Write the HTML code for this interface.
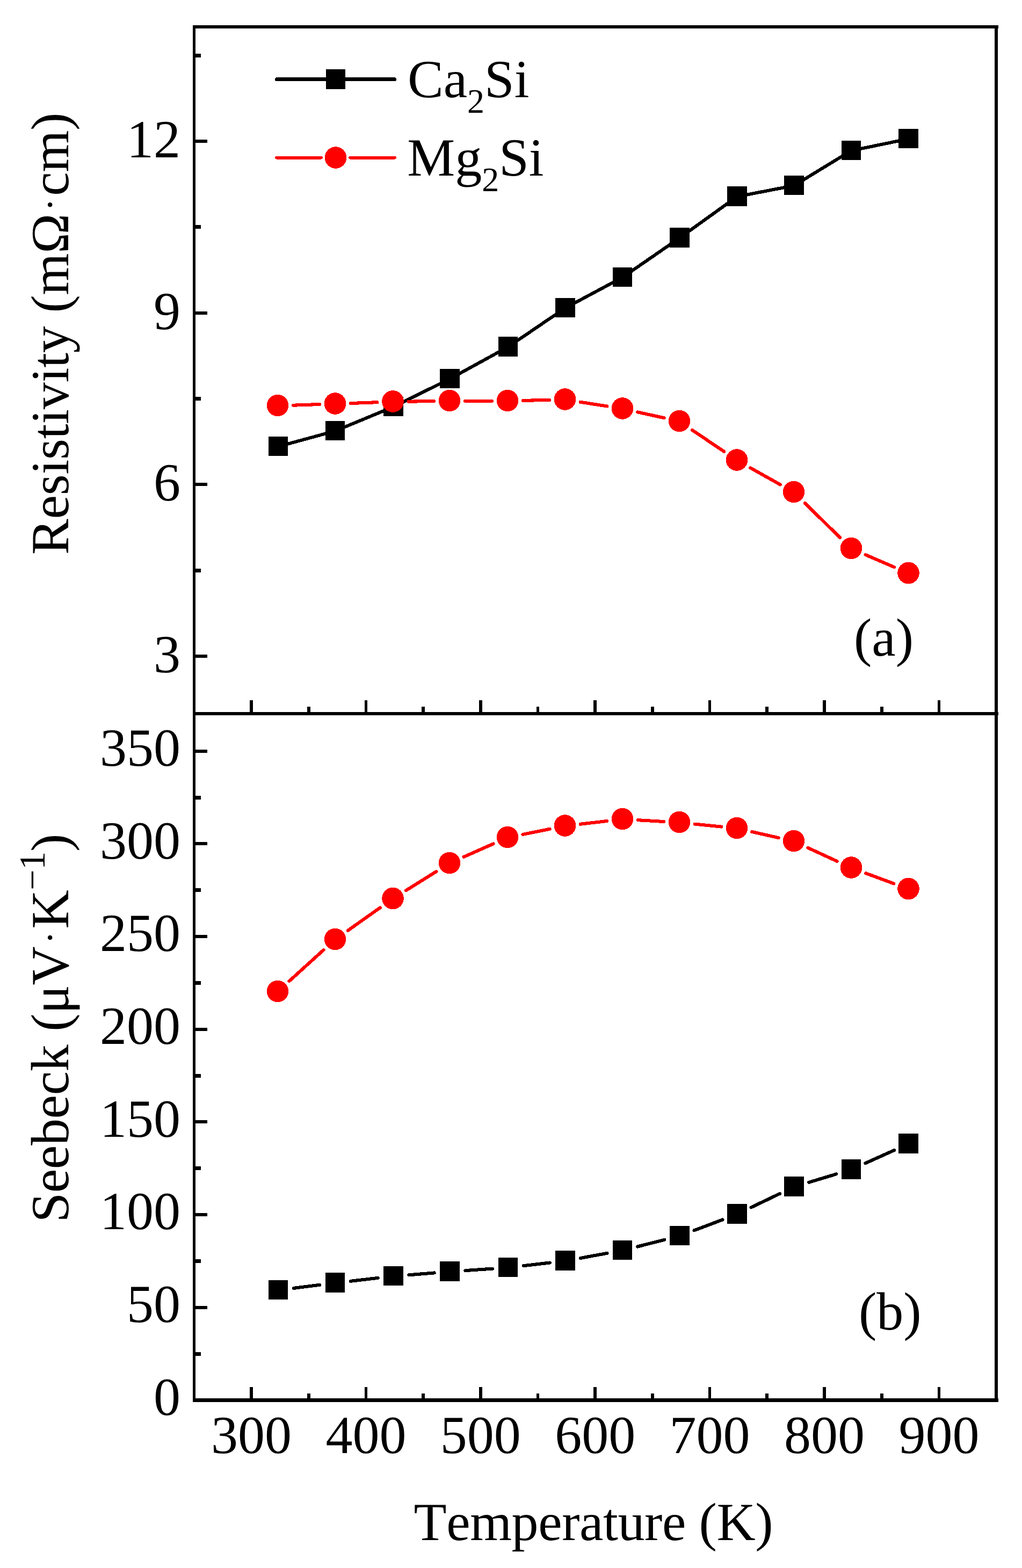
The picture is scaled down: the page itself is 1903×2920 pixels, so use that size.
<!DOCTYPE html>
<html lang="en">
<head>
<meta charset="utf-8">
<title>Resistivity and Seebeck coefficient of Ca2Si and Mg2Si versus temperature</title>
<style>
  html, body { margin: 0; padding: 0; background: #ffffff; }
  figure { margin: 0; padding: 0; width: 1903px; height: 2920px; }
  svg { display: block; width: 1903px; height: 2920px; background: #ffffff; }
  #labels text { font-family: "Liberation Serif", serif; font-size: 100px; fill: #000000;
                  text-rendering: geometricPrecision; font-kerning: none; }
  .ln { fill: none; stroke-width: 6.1; stroke-linecap: round; stroke-linejoin: round; }
</style>
</head>
<body>
<figure aria-label="Temperature dependence of (a) resistivity and (b) Seebeck coefficient for Ca2Si and Mg2Si">
<svg width="1903" height="2920" viewBox="0 0 1903 2920" role="img">
<g id="plot" shape-rendering="crispEdges">
<!-- axes frame -->
<g id="frame" fill="#000">
<rect x="359" y="47" width="5" height="2564"/>
<rect x="1852" y="47" width="6" height="2564"/>
<rect x="359" y="47" width="1500" height="6"/>
<rect x="359" y="1326" width="1500" height="6"/>
<rect x="359" y="2604" width="1500" height="7"/>
</g>
<!-- tick marks -->
<g id="ticks" fill="#000">
<rect x="364" y="260" width="22" height="6"/>
<rect x="364" y="580" width="22" height="6"/>
<rect x="364" y="899" width="22" height="6"/>
<rect x="364" y="1219" width="22" height="6"/>
<rect x="364" y="100" width="10" height="7"/>
<rect x="364" y="419" width="10" height="7"/>
<rect x="364" y="739" width="10" height="7"/>
<rect x="364" y="1059" width="10" height="7"/>
<rect x="364" y="2432" width="22" height="6"/>
<rect x="364" y="2259" width="22" height="6"/>
<rect x="364" y="2086" width="22" height="6"/>
<rect x="364" y="1914" width="22" height="6"/>
<rect x="364" y="1741" width="22" height="6"/>
<rect x="364" y="1568" width="22" height="6"/>
<rect x="364" y="1396" width="22" height="6"/>
<rect x="364" y="2518" width="10" height="7"/>
<rect x="364" y="2345" width="10" height="7"/>
<rect x="364" y="2172" width="10" height="7"/>
<rect x="364" y="2000" width="10" height="7"/>
<rect x="364" y="1827" width="10" height="7"/>
<rect x="364" y="1654" width="10" height="7"/>
<rect x="364" y="1482" width="10" height="7"/>
<rect x="465" y="2583" width="6" height="21"/>
<rect x="465" y="1304" width="6" height="22"/>
<rect x="679" y="2583" width="5" height="21"/>
<rect x="679" y="1304" width="5" height="22"/>
<rect x="892" y="2583" width="6" height="21"/>
<rect x="892" y="1304" width="6" height="22"/>
<rect x="1105" y="2583" width="6" height="21"/>
<rect x="1105" y="1304" width="6" height="22"/>
<rect x="1319" y="2583" width="5" height="21"/>
<rect x="1319" y="1304" width="5" height="22"/>
<rect x="1532" y="2583" width="6" height="21"/>
<rect x="1532" y="1304" width="6" height="22"/>
<rect x="1746" y="2583" width="5" height="21"/>
<rect x="1746" y="1304" width="5" height="22"/>
<rect x="572" y="2595" width="6" height="9"/>
<rect x="572" y="1316" width="6" height="10"/>
<rect x="785" y="2595" width="6" height="9"/>
<rect x="785" y="1316" width="6" height="10"/>
<rect x="999" y="2595" width="5" height="9"/>
<rect x="999" y="1316" width="5" height="10"/>
<rect x="1212" y="2595" width="6" height="9"/>
<rect x="1212" y="1316" width="6" height="10"/>
<rect x="1425" y="2595" width="6" height="9"/>
<rect x="1425" y="1316" width="6" height="10"/>
<rect x="1639" y="2595" width="6" height="9"/>
<rect x="1639" y="1316" width="6" height="10"/>
</g>
<!-- panel (a): resistivity -->
<g id="a-ca2si">
<g class="ln" stroke="#000">
<polyline points="518,831.6 624,802.6 732.5,757.6 837.5,705.6 946,646.1 1052.5,573.6 1159,516.6 1265.5,443.1 1372.5,366.1 1478.5,345.6 1585,280.6 1691.5,258.6"/>
</g>
<g class="mk" fill="#000">
<rect x="500" y="813" width="36" height="36"/>
<rect x="606" y="784" width="36" height="36"/>
<rect x="714" y="739" width="37" height="36"/>
<rect x="819" y="687" width="37" height="36"/>
<rect x="928" y="627" width="36" height="37"/>
<rect x="1034" y="555" width="37" height="36"/>
<rect x="1141" y="498" width="36" height="36"/>
<rect x="1247" y="424" width="37" height="37"/>
<rect x="1354" y="347" width="37" height="37"/>
<rect x="1460" y="327" width="37" height="36"/>
<rect x="1567" y="262" width="36" height="36"/>
<rect x="1673" y="240" width="37" height="36"/>
</g>
</g>
<g id="a-mg2si">
<g class="ln" stroke="#ff0000">
<line x1="546.0" y1="754.7" x2="595.0" y2="753.0"/>
<line x1="653.0" y1="751.0" x2="702.5" y2="749.2"/>
<line x1="760.5" y1="747.7" x2="808.0" y2="747.0"/>
<line x1="866.0" y1="746.6" x2="916.0" y2="746.6"/>
<line x1="974.0" y1="745.9" x2="1023.0" y2="744.8"/>
<line x1="1080.6" y1="748.7" x2="1130.4" y2="756.5"/>
<line x1="1187.3" y1="767.4" x2="1236.7" y2="778.3"/>
<line x1="1289.0" y1="800.9" x2="1348.0" y2="840.8"/>
<line x1="1397.3" y1="871.3" x2="1452.7" y2="902.4"/>
<line x1="1498.7" y1="936.9" x2="1564.3" y2="1001.3"/>
<line x1="1611.6" y1="1033.1" x2="1664.9" y2="1056.1"/>
</g>
<g class="mk" fill="#ff0000">
<circle cx="517" cy="755" r="20.3"/>
<circle cx="624" cy="751.5" r="20.3"/>
<circle cx="731.5" cy="747.5" r="20.3"/>
<circle cx="837" cy="746" r="20.3"/>
<circle cx="945" cy="746" r="20.3"/>
<circle cx="1052" cy="743.5" r="20.3"/>
<circle cx="1159" cy="760.5" r="20.3"/>
<circle cx="1265" cy="784" r="20.3"/>
<circle cx="1372" cy="856.5" r="20.3"/>
<circle cx="1478" cy="916" r="20.3"/>
<circle cx="1585" cy="1021" r="20.3"/>
<circle cx="1691.5" cy="1067" r="20.3"/>
</g>
</g>
<!-- panel (b): Seebeck coefficient -->
<g id="b-ca2si">
<g class="ln" stroke="#000">
<line x1="546.8" y1="2398.9" x2="595.2" y2="2392.8"/>
<line x1="652.8" y1="2385.8" x2="703.7" y2="2379.9"/>
<line x1="761.4" y1="2374.3" x2="808.6" y2="2370.4"/>
<line x1="866.4" y1="2366.1" x2="917.1" y2="2362.6"/>
<line x1="974.8" y1="2357.2" x2="1023.7" y2="2351.5"/>
<line x1="1081.0" y1="2342.9" x2="1130.5" y2="2333.8"/>
<line x1="1187.1" y1="2321.5" x2="1237.4" y2="2308.7"/>
<line x1="1292.6" y1="2291.3" x2="1345.4" y2="2271.4"/>
<line x1="1398.6" y1="2248.5" x2="1452.4" y2="2222.7"/>
<line x1="1506.3" y1="2201.8" x2="1557.2" y2="2186.4"/>
<line x1="1611.4" y1="2166.2" x2="1665.1" y2="2142.0"/>
</g>
<g class="mk" fill="#000">
<rect x="500" y="2384" width="36" height="36"/>
<rect x="606" y="2370" width="36" height="37"/>
<rect x="714" y="2358" width="37" height="36"/>
<rect x="819" y="2349" width="37" height="37"/>
<rect x="928" y="2342" width="36" height="36"/>
<rect x="1034" y="2329" width="37" height="37"/>
<rect x="1141" y="2310" width="36" height="36"/>
<rect x="1247" y="2283" width="37" height="36"/>
<rect x="1354" y="2242" width="37" height="37"/>
<rect x="1460" y="2191" width="37" height="37"/>
<rect x="1567" y="2159" width="36" height="37"/>
<rect x="1673" y="2111" width="37" height="37"/>
</g>
</g>
<g id="b-mg2si">
<g class="ln" stroke="#ff0000">
<line x1="538.5" y1="1827.1" x2="602.5" y2="1769.1"/>
<line x1="647.7" y1="1732.9" x2="707.8" y2="1690.3"/>
<line x1="756.1" y1="1658.2" x2="812.4" y2="1623.0"/>
<line x1="863.5" y1="1595.8" x2="918.5" y2="1571.4"/>
<line x1="973.4" y1="1553.9" x2="1023.6" y2="1543.8"/>
<line x1="1080.8" y1="1534.7" x2="1130.2" y2="1529.0"/>
<line x1="1188.0" y1="1527.2" x2="1236.0" y2="1530.0"/>
<line x1="1293.8" y1="1534.6" x2="1343.2" y2="1539.6"/>
<line x1="1400.3" y1="1549.0" x2="1449.7" y2="1560.2"/>
<line x1="1504.3" y1="1578.8" x2="1558.7" y2="1603.9"/>
<line x1="1612.2" y1="1626.2" x2="1664.3" y2="1645.5"/>
</g>
<g class="mk" fill="#ff0000">
<circle cx="517" cy="1846" r="20.3"/>
<circle cx="624" cy="1749" r="20.3"/>
<circle cx="731.5" cy="1673" r="20.3"/>
<circle cx="837" cy="1607" r="20.3"/>
<circle cx="945" cy="1559" r="20.3"/>
<circle cx="1052" cy="1537.5" r="20.3"/>
<circle cx="1159" cy="1525" r="20.3"/>
<circle cx="1265" cy="1531" r="20.3"/>
<circle cx="1372" cy="1542" r="20.3"/>
<circle cx="1478" cy="1566" r="20.3"/>
<circle cx="1585" cy="1615.5" r="20.3"/>
<circle cx="1691.5" cy="1655" r="20.3"/>
</g>
</g>
<!-- legend symbols -->
<g id="legend-symbols">
<line x1="515.5" y1="147.5" x2="734.5" y2="147.5" stroke="#000" stroke-width="7" stroke-linecap="round"/>
<rect x="607" y="129" width="36" height="37" fill="#000"/>
<line x1="515" y1="293.5" x2="598" y2="293.5" stroke="#ff0000" stroke-width="6" stroke-linecap="round"/>
<line x1="652" y1="293.5" x2="735" y2="293.5" stroke="#ff0000" stroke-width="6" stroke-linecap="round"/>
<circle cx="625" cy="293.5" r="20.3" fill="#ff0000"/>
</g>
</g>
<g id="labels">
<!-- y tick labels, panel (a) -->
<g text-anchor="end">
<text x="336" y="293.0">12</text>
<text x="336" y="612.7">9</text>
<text x="336" y="932.4">6</text>
<text x="336" y="1252.0">3</text>
<!-- y tick labels, panel (b) -->
<text x="336" y="1425.9">350</text>
<text x="336" y="1598.6">300</text>
<text x="336" y="1771.3">250</text>
<text x="336" y="1944.0">200</text>
<text x="336" y="2116.7">150</text>
<text x="336" y="2289.3">100</text>
<text x="336" y="2462.0">50</text>
<text x="336" y="2634.7">0</text>
</g>
<!-- x tick labels -->
<g text-anchor="middle">
<text x="468.0" y="2706">300</text>
<text x="681.4" y="2706">400</text>
<text x="894.8" y="2706">500</text>
<text x="1108.2" y="2706">600</text>
<text x="1321.6" y="2706">700</text>
<text x="1535.0" y="2706">800</text>
<text x="1748.4" y="2706">900</text>
</g>
<text x="770.5" y="2867.5" letter-spacing="-0.4">Temperature (K)</text>
<!-- x axis title is the text just above; y axis titles (rotated) -->
<text transform="translate(127.2 1033) rotate(-90)" letter-spacing="-0.2">Resistivity (mΩ<tspan font-size="72px" dx="4.65" dy="-10.7">·</tspan><tspan dx="4.65" dy="10.7">cm)</tspan></text>
<text transform="translate(127.2 2276.6) rotate(-90)" letter-spacing="-0.3">Seebeck (μV<tspan font-size="72px" dx="4.65" dy="-10.7">·</tspan><tspan dx="4.65" dy="10.7">K</tspan><tspan font-size="68px" dy="-44.4">−1</tspan><tspan dy="44.4">)</tspan></text>
<!-- legend labels -->
<text x="759" y="180.5">Ca<tspan font-size="64px" dy="29.5">2</tspan><tspan dy="-29.5">Si</tspan></text>
<text x="758.3" y="326.5">Mg<tspan font-size="64px" dy="29.5">2</tspan><tspan dy="-29.5">Si</tspan></text>
<!-- panel labels -->
<text x="1590" y="1220.5">(a)</text>
<text x="1599" y="2475.7">(b)</text>
</g>
</svg>
</figure>
</body>
</html>
